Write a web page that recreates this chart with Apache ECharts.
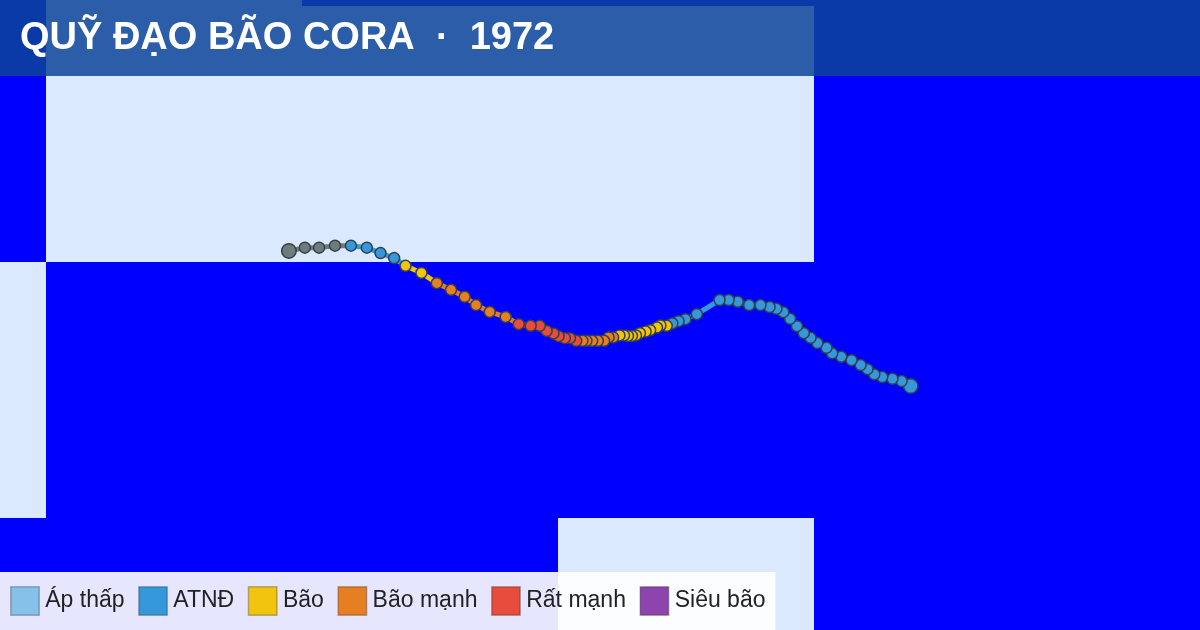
<!DOCTYPE html>
<html>
<head>
<meta charset="utf-8">
<title>Quỹ đạo bão Cora 1972</title>
<style>
html, body { margin: 0; padding: 0; background: #0000ff; }
#main { width: 1200px; height: 630px; }
</style>
<script src="https://cdn.jsdelivr.net/npm/echarts@6/dist/echarts.min.js"></script>
</head>
<body>
<div id="main"></div>
<script>
// cấp bão trong chú giải
var classNames = ['Áp thấp', 'ATNĐ', 'Bão', 'Bão mạnh', 'Rất mạnh', 'Siêu bão'];
var classColors = ['#85c1e9', '#3498db', '#f1c40f', '#e67e22', '#e74c3c', '#8e44ad'];
var unknownColor = '#707b7c';

// các điểm quỹ đạo, theo thứ tự từ đông sang tây
var lons = [166.0, 165.2, 164.4, 163.5, 162.8, 162.2, 161.6, 160.8, 159.9, 159.1,
    158.6, 157.8, 157.2, 156.6, 156.0, 155.4, 154.8, 154.2, 153.6, 152.8,
    151.8, 150.8, 150.0, 149.2, 147.2, 146.2, 145.6, 145.05, 144.55, 144.0,
    143.7, 143.1, 142.7, 142.2, 141.85, 141.5, 141.15, 140.8, 140.4, 139.85,
    139.45, 139.05, 138.5, 138.0, 137.5, 137.15, 136.6, 136.05, 135.6, 135.05,
    134.6, 134.0, 133.4, 132.6, 131.55, 130.4, 129.0, 127.8, 126.8, 125.6,
    124.35, 123.0, 121.6, 120.6, 119.4, 118.2, 116.8, 115.4, 114.0, 112.75, 111.35];
var lats = [11.52, 11.95, 12.14, 12.29, 12.52, 12.97, 13.32, 13.74, 14.03, 14.32,
    14.79, 15.19, 15.64, 16.03, 16.62, 17.24, 17.80, 18.08, 18.22, 18.39,
    18.39, 18.67, 18.81, 18.81, 17.63, 17.21, 17.04, 16.85, 16.65, 16.68,
    16.51, 16.28, 16.17, 16.03, 15.84, 15.80, 15.80, 15.84, 15.84, 15.67,
    15.67, 15.38, 15.38, 15.38, 15.38, 15.38, 15.38, 15.61, 15.61, 15.78,
    16.01, 16.22, 16.65, 16.65, 16.79, 17.40, 17.82, 18.39, 19.08, 19.66,
    20.21, 21.05, 21.63, 22.26, 22.67, 23.11, 23.27, 23.27, 23.11, 23.11, 22.84];
// chỉ số trong classNames, -1 là chưa rõ cấp
var classes = [1, 1, 1, 1, 1, 1, 1, 1, 1, 1,
    1, 1, 1, 1, 1, 1, 1, 1, 1, 1,
    1, 1, 1, 1, 1, 1, 1, 1, 2, 2,
    2, 2, 2, 2, 2, 2, 2, 2, 2, 3,
    3, 3, 3, 3, 3, 3, 4, 4, 4, 4,
    4, 4, 4, 4, 4, 3, 3, 3, 3, 3,
    3, 2, 2, 1, 1, 1, 1, -1, -1, -1, -1];

// ô nền đất liền [cột, hàng] ở mức zoom 4
var landTiles = [[12, 5], [12, 6], [13, 6], [14, 6], [11, 7], [14, 8]];
var tileSize = 256;

var titleText = 'QUỸ ĐẠO BÃO CORA  ·  1972';

// tọa độ Web Mercator ở mức zoom 4
function worldX(lon) {
    return (lon + 180) / 360 * 4096;
}
function worldY(lat) {
    var r = lat * Math.PI / 180;
    return 2048 - Math.asinh(Math.tan(r)) * 4096 / (2 * Math.PI);
}

function colorOf(c) {
    return c < 0 ? unknownColor : classColors[c];
}

var points = [];
for (var i = 0; i < lons.length; i++) {
    var big = i === 0 || i === lons.length - 1;
    points.push({
        value: [worldX(lons[i]), worldY(lats[i])],
        symbolSize: big ? 14.5 : 11,
        itemStyle: {color: colorOf(classes[i])}
    });
}

// đoạn nối mang màu của điểm phía sau
function segmentsOf(c) {
    var out = [];
    for (var i = 1; i < points.length; i++) {
        if (classes[i] === c) {
            out.push([points[i - 1].value[0], points[i - 1].value[1], points[i].value[0], points[i].value[1]]);
        }
    }
    return out;
}

function renderSegment(color) {
    return function (params, api) {
        var a = api.coord([api.value(0), api.value(1)]);
        var b = api.coord([api.value(2), api.value(3)]);
        return {
            type: 'line',
            shape: {x1: a[0], y1: a[1], x2: b[0], y2: b[1]},
            style: {stroke: color, lineWidth: 5, lineCap: 'round', fill: null}
        };
    };
}

var tileData = landTiles.map(function (t) {
    return [t[0] * tileSize, t[1] * tileSize, (t[0] + 1) * tileSize, (t[1] + 1) * tileSize];
});

var series = [{
    type: 'custom',
    name: 'land',
    silent: true,
    clip: true,
    z: 1,
    encode: {x: [0, 2], y: [1, 3]},
    data: tileData,
    renderItem: function (params, api) {
        var a = api.coord([api.value(0), api.value(1)]);
        var b = api.coord([api.value(2), api.value(3)]);
        return {
            type: 'rect',
            shape: {x: a[0], y: a[1], width: b[0] - a[0], height: b[1] - a[1]},
            style: {fill: '#dbe9ff'}
        };
    }
}];

classNames.forEach(function (name, c) {
    series.push({
        type: 'custom',
        name: name,
        silent: true,
        z: 2,
        itemStyle: {color: classColors[c]},
        encode: {x: [0, 2], y: [1, 3]},
        data: segmentsOf(c),
        renderItem: renderSegment(classColors[c])
    });
});
series.push({
    type: 'custom',
    name: 'unknown',
    silent: true,
    z: 2,
    encode: {x: [0, 2], y: [1, 3]},
    data: segmentsOf(-1),
    renderItem: renderSegment(unknownColor)
});
series.push({
    type: 'scatter',
    name: 'points',
    silent: true,
    z: 3,
    symbol: 'circle',
    itemStyle: {borderColor: '#34404c', borderWidth: 1.5, opacity: 1},
    data: points
});

var chart = echarts.init(document.getElementById('main'));
chart.setOption({
    animation: false,
    backgroundColor: '#0000ff',
    grid: {left: 0, right: 0, top: 0, bottom: 0},
    xAxis: {type: 'value', min: 3026, max: 4226, show: false},
    yAxis: {type: 'value', min: 1530, max: 2160, inverse: true, show: false},
    title: {
        text: titleText,
        left: 20,
        top: 15,
        padding: 0,
        z: 20,
        textStyle: {color: '#ffffff', fontFamily: 'Liberation Sans', fontSize: 38, fontWeight: 'bold', lineHeight: 48}
    },
    legend: {
        left: 0,
        bottom: 0,
        padding: [14, 10],
        itemWidth: 28.5,
        itemHeight: 28.5,
        itemGap: 13.5,
        icon: 'rect',
        selectedMode: false,
        backgroundColor: 'rgba(255,255,255,0.9)',
        itemStyle: {borderColor: 'rgba(0,0,0,0.25)', borderWidth: 1.5},
        textStyle: {color: '#222222', fontFamily: 'Liberation Sans', fontSize: 23, padding: [0, 0, 0, 1]},
        data: classNames
    },
    graphic: [{
        type: 'rect',
        z: 10,
        silent: true,
        shape: {x: 0, y: 0, width: 1200, height: 76},
        style: {fill: 'rgba(12,68,153,0.85)'}
    }],
    series: series
});
</script>
</body>
</html>
